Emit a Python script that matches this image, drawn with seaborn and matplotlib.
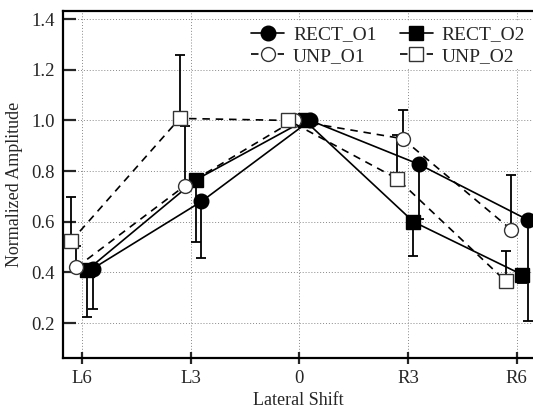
import numpy as np
import pandas as pd
import matplotlib
matplotlib.use("Agg")
import matplotlib.pyplot as plt
import seaborn as sns

# Lateral shift categories and normalized amplitudes per condition
shifts = ["L6", "L3", "0", "R3", "R6"]

rect_o1 = [0.415, 0.68, 1.0, 0.827, 0.608]
rect_o2 = [0.41, 0.766, 1.0, 0.60, 0.391]
unp_o1 = [0.42, 0.743, 1.0, 0.928, 0.569]
unp_o2 = [0.523, 1.008, 1.0, 0.770, 0.365]

# one-sided error bar ends (RECT drawn downward, UNP drawn upward)
rect_o1_low = [0.255, 0.457, 1.0, 0.61, 0.209]
rect_o2_low = [0.225, 0.519, 1.0, 0.463, 0.358]
unp_o1_high = [0.503, 0.98, 1.0, 1.043, 0.786]
unp_o2_high = [0.698, 1.258, 1.0, 0.941, 0.483]

series_names = ["RECT_O1", "RECT_O2", "UNP_O1", "UNP_O2"]

sns.set_style("ticks")
plt.rcParams["font.family"] = ["Liberation Serif", "DejaVu Serif"]
plt.rcParams["font.size"] = 13

fig = plt.figure(figsize=(5.33, 4.08), dpi=100)
ax = fig.add_axes([0.118, 0.1225, 0.882, 0.8505])

# drawing styles per series: horizontal dodge, marker, line style, fill
styles = {
    "RECT_O1": dict(dx=0.10, marker="o", ls="-", mfc="black", ms=10.5),
    "RECT_O2": dict(dx=0.05, marker="s", ls="-", mfc="black", ms=10),
    "UNP_O1": dict(dx=-0.05, marker="o", ls="--", mfc="white", ms=10),
    "UNP_O2": dict(dx=-0.10, marker="s", ls="--", mfc="white", ms=9.5),
}
values = {"RECT_O1": rect_o1, "RECT_O2": rect_o2, "UNP_O1": unp_o1, "UNP_O2": unp_o2}
err_ends = {"RECT_O1": rect_o1_low, "RECT_O2": rect_o2_low,
            "UNP_O1": unp_o1_high, "UNP_O2": unp_o2_high}

base_x = np.arange(len(shifts))
for name in series_names:
    st = styles[name]
    y = np.array(values[name])
    ends = np.array(err_ends[name])
    x = base_x + st["dx"]
    lower = np.clip(y - ends, 0, None)
    upper = np.clip(ends - y, 0, None)
    ax.errorbar(x, y, yerr=[lower, upper], fmt="none", ecolor="black",
                elinewidth=1.3, capsize=3.5, capthick=1.3, zorder=2)
    df = pd.DataFrame({"x": x, "y": y})
    sns.lineplot(data=df, x="x", y="y", ax=ax, color="black", lw=1.2,
                 linestyle=st["ls"], dashes=False, marker=st["marker"],
                 markersize=st["ms"], markerfacecolor=st["mfc"],
                 markeredgecolor="black" if st["mfc"] == "black" else "#333333",
                 markeredgewidth=1.0, label=name, zorder=3)
    if st["ls"] == "--":
        ax.lines[-1].set_dashes([4.5, 3.5])

ax.set_xlim(-0.175, 4.15)
ax.set_ylim(0.062, 1.432)
ax.set_xticks(base_x)
ax.set_xticklabels(shifts)
ax.set_yticks([0.2, 0.4, 0.6, 0.8, 1.0, 1.2, 1.4])
ax.set_yticklabels(["0.2", "0.4", "0.6", "0.8", "1.0", "1.2", "1.4"])

ax.grid(True, linestyle=(0, (1, 2)), color="#888888", linewidth=0.7)
ax.set_axisbelow(True)

for side in ["left", "top", "bottom"]:
    ax.spines[side].set_linewidth(1.6)
    ax.spines[side].set_color("black")
ax.spines["right"].set_visible(False)

ax.tick_params(axis="y", direction="in", length=9, width=1.6, pad=6,
               labelsize=13.5, right=False)
ax.tick_params(axis="x", direction="inout", length=9, width=1.6, pad=4,
               labelsize=13.5, top=False)

ax.set_xlabel("Lateral Shift", fontsize=13, labelpad=4)
ax.set_ylabel("Normalized Amplitude", fontsize=13, labelpad=6)

handles, labels = ax.get_legend_handles_labels()
lookup = dict(zip(labels, handles))
order = ["RECT_O1", "UNP_O1", "RECT_O2", "UNP_O2"]
leg = ax.legend([lookup[k] for k in order], order, ncol=2, loc="upper right",
                bbox_to_anchor=(1.0, 0.98), frameon=True, facecolor="white",
                edgecolor="none", framealpha=1.0, fontsize=14,
                handlelength=1.7, handletextpad=0.45, columnspacing=1.2,
                labelspacing=0.2, borderaxespad=0.2, borderpad=0.2)

fig.savefig("out.png", dpi=100)
